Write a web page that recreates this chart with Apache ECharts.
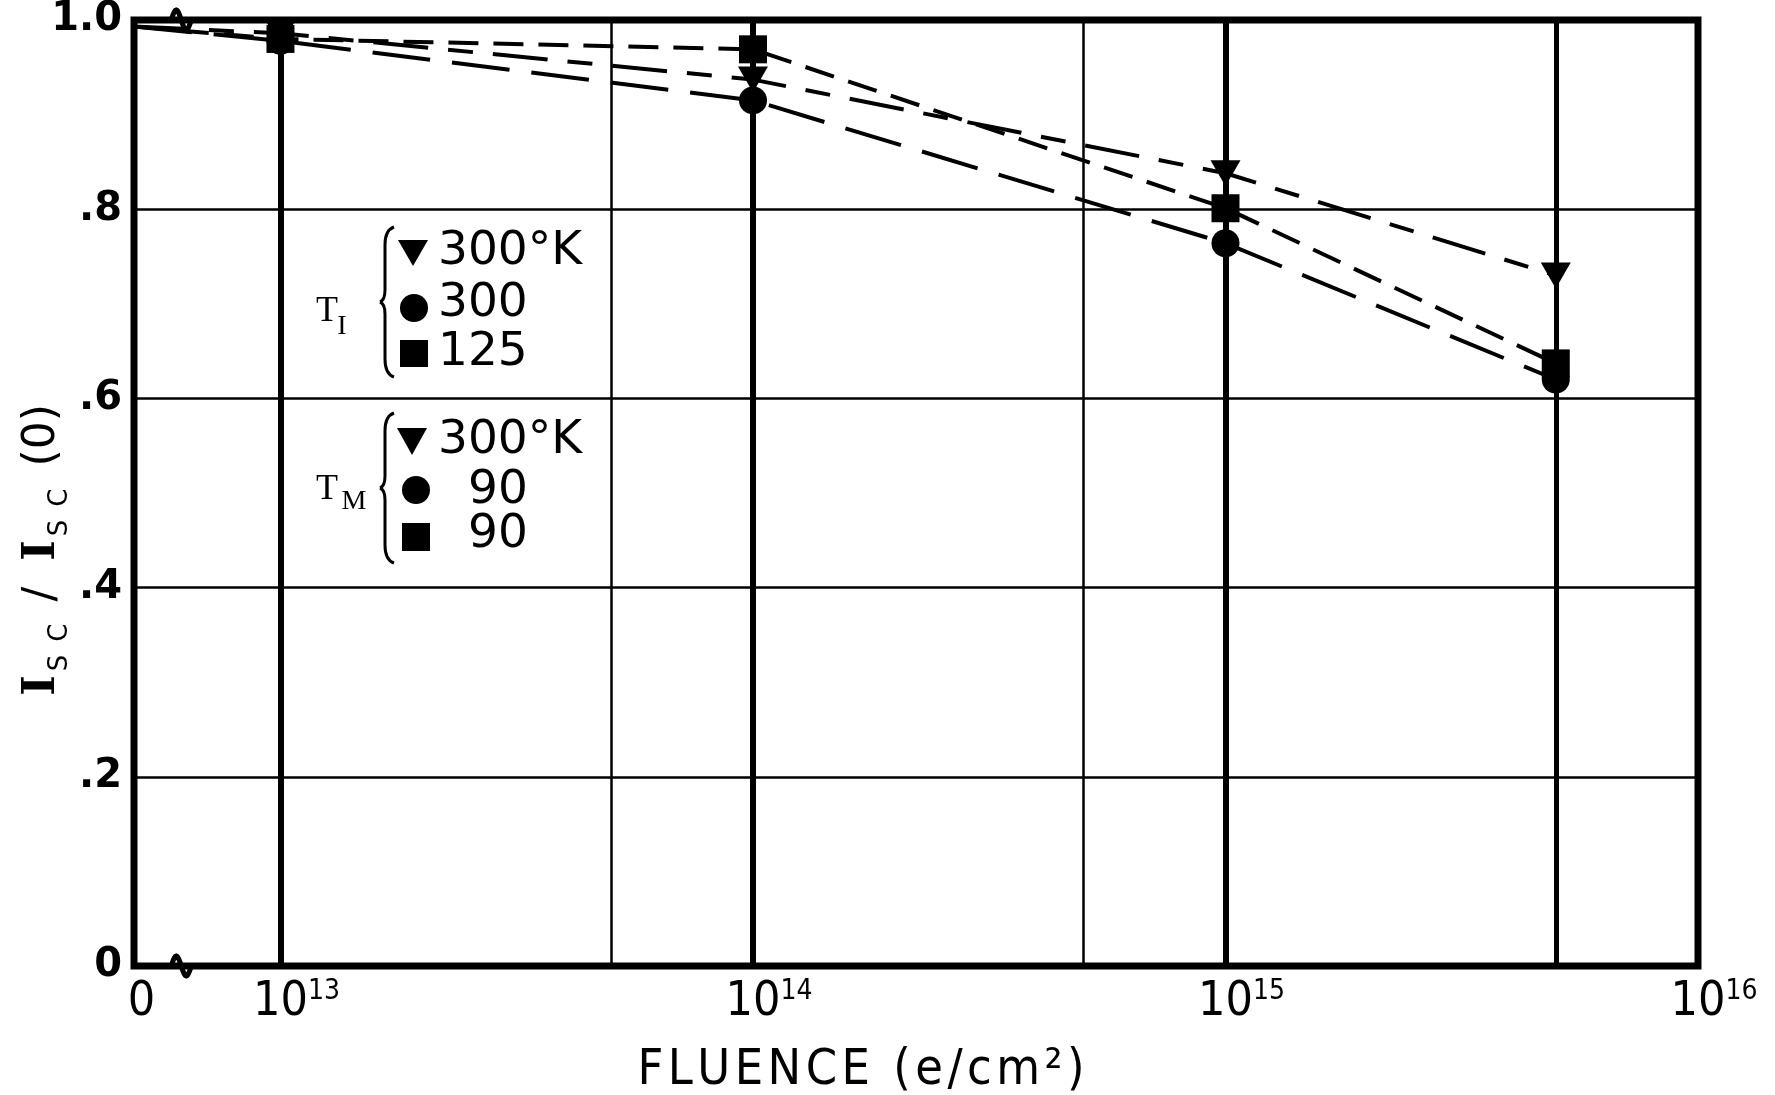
<!DOCTYPE html>
<html>
<head>
<meta charset="utf-8">
<script src="https://cdn.jsdelivr.net/npm/echarts@6/dist/echarts.min.js"></script>
<style>
  html, body { margin: 0; padding: 0; background: #fff; }
  #chart { width: 1775px; height: 1095px; }
</style>
</head>
<body>
<div id="chart"></div>
<script>
// Fluence values (e/cm^2) at which the short-circuit current was measured
const fluence = [0, 1e13, 1e14, 1e15, 5e15];

// Normalised short-circuit current Isc/Isc(0) for each cell group
const ratioTriangle = [0.993, 0.986, 0.937, 0.838, 0.73];
const ratioCircle   = [0.993, 0.978, 0.915, 0.764, 0.62];
const ratioSquare   = [0.993, 0.98, 0.969, 0.801, 0.637];

// Vertical rulings of the log fluence scale
const rulingFluence = [1e13, 5e13, 1e14, 5e14, 1e15, 5e15];

// Axis tick labels
const xDecades = [13, 14, 15, 16];
const yTickLabels = ['0', '.2', '.4', '.6', '.8', '1.0'];

// Legend texts: irradiation temperature T_I and measurement temperature T_M
const legendIrradiation = ['300°K', '300', '125'];
const legendMeasurement = ['300°K', '90', '90'];

// Fluence scale: decades above 1e13 on a log scale, zero placed on a broken segment
const ZERO_POS = -0.31;
const BREAK_POS = -0.21;
const pos = f => (f === 0 ? ZERO_POS : Math.log10(f) - 13);

const toPairs = vals => fluence.map((f, i) =>
  i === 0 ? { value: [pos(f), vals[i]], symbol: 'none' } : [pos(f), vals[i]]);

const TRI = 'path://M0,0L30,0L15,26Z';

const chart = echarts.init(document.getElementById('chart'), null, { renderer: 'canvas' });

function lineSeries(name, vals, symbol, size, dash, z) {
  return {
    name, type: 'line', data: toPairs(vals), z,
    symbol, symbolSize: size, showSymbol: true,
    itemStyle: { color: '#000' },
    lineStyle: { color: '#000', width: 4, type: dash },
    animation: false
  };
}

const rulings = rulingFluence.map(f => {
  const decade = Number.isInteger(Math.log10(f));
  const measured = fluence.includes(f);
  return {
    xAxis: pos(f),
    lineStyle: { color: '#000', type: 'solid', width: decade ? 6 : (measured ? 5 : 2.5) }
  };
});

const seriesCircle = lineSeries('circle', ratioCircle, 'circle', 28, [58, 22], 3);
seriesCircle.markLine = {
  silent: true, symbol: 'none', label: { show: false }, animation: false,
  data: rulings
};

const option = {
  backgroundColor: '#fff',
  animation: false,
  grid: {
    left: 134, right: 77, top: 20, bottom: 129,
    outerBoundsMode: 'none', containLabel: false,
    show: true, borderColor: '#000', borderWidth: 7, backgroundColor: 'transparent'
  },
  xAxis: {
    type: 'value', min: ZERO_POS, max: 3,
    name: 'FLUENCE (e/cm²)'.split('').join('\u200a'),
    nameLocation: 'middle', nameGap: 80, nameMoveOverlap: false,
    nameTextStyle: {
      color: '#000', fontFamily: '"DejaVu Sans Condensed", "DejaVu Sans"',
      fontSize: 50, padding: [0, 110, 0, 0]
    },
    axisLine: { show: false }, axisTick: { show: false }, splitLine: { show: false },
    axisLabel: {
      customValues: [ZERO_POS + 0.016].concat(xDecades.map(d => d - 13)),
      margin: 12,
      formatter: v => v < -0.1 ? '{b|0}' : '{pad|}{b|10}{sup|' + (Math.round(v) + 13) + '}',
      rich: {
        b: { fontFamily: '"DejaVu Sans Condensed", "DejaVu Sans"', fontSize: 48, lineHeight: 50, color: '#000' },
        sup: { fontFamily: '"DejaVu Sans Condensed", "DejaVu Sans"', fontSize: 28, lineHeight: 30, verticalAlign: 'top', color: '#000' },
        pad: { width: 32 }
      }
    }
  },
  yAxis: {
    type: 'value', min: 0, max: 1, interval: 0.2,
    name: '{i|I}{s|S\u2002C}{n|\u2002/\u2002}{i|I}{s|S\u2002C}{n|\u2002(0)}',
    nameLocation: 'middle', nameRotate: 90, nameGap: 61, nameMoveOverlap: false,
    nameTextStyle: {
      color: '#000', padding: [0, 118, 0, 0],
      rich: {
        i: { fontFamily: '"DejaVu Serif"', fontWeight: 'bold', fontSize: 44, lineHeight: 60, padding: [0, 4, 0, 4], color: '#000' },
        s: { fontFamily: '"DejaVu Sans"', fontSize: 26, lineHeight: 28, verticalAlign: 'bottom', color: '#000' },
        n: { fontFamily: '"DejaVu Sans"', fontSize: 44, lineHeight: 60, color: '#000' }
      }
    },
    axisLine: { show: false }, axisTick: { show: false },
    splitLine: { show: true, lineStyle: { color: '#000', width: 2.5 } },
    axisLabel: {
      margin: 12, color: '#000', fontFamily: '"DejaVu Sans"', fontWeight: 'bold', fontSize: 40,
      formatter: v => yTickLabels[Math.round(v / 0.2)]
    }
  },
  series: [
    seriesCircle,
    lineSeries('triangle', ratioTriangle, TRI, [30, 26], [55, 20, 25, 20], 4),
    lineSeries('square', ratioSquare, 'rect', 28, [30, 15], 5)
  ]
};

chart.setOption(option);

// Legend block with braces and temperature groups
const FONT = 'normal 47px "DejaVu Sans"';
const SERIF = '"Liberation Serif", "DejaVu Serif"';
const INK = { stroke: '#000', lineWidth: 3, fill: null };

function label(text, x, y) {
  return { type: 'text', z: 10, style: { text, x, y, font: FONT, fill: '#000', align: 'left', verticalAlign: 'middle' } };
}
function curve(x1, y1, cpx1, cpy1, x2, y2) {
  return { type: 'bezierCurve', z: 10, shape: { x1, y1, cpx1, cpy1, x2, y2 }, style: INK };
}
function segment(x1, y1, x2, y2) {
  return { type: 'line', z: 10, shape: { x1, y1, x2, y2 }, style: INK };
}
function brace(x, y0, y1) {
  const ym = (y0 + y1) / 2;
  const xs = x - 9;
  return [
    curve(x, y0, xs, y0 + 3, xs, y0 + 18),
    segment(xs, y0 + 18, xs, ym - 12),
    curve(xs, ym - 12, xs, ym - 2, x - 14, ym),
    curve(x - 14, ym, xs, ym + 2, xs, ym + 12),
    segment(xs, ym + 12, xs, y1 - 18),
    curve(xs, y1 - 18, xs, y1 - 3, x, y1)
  ];
}
// Axis-break squiggle drawn across the frame line
function wiggle(x, y) {
  const pts = [[x - 16, y]];
  for (let k = 0; k <= 20; k++) {
    const t = k / 20;
    pts.push([x - 10 + 20 * t, y - 10 * Math.sin(2 * Math.PI * t)]);
  }
  pts.push([x + 16, y]);
  return { type: 'polyline', z: 10, shape: { points: pts }, style: { stroke: '#000', lineWidth: 5, fill: null } };
}

const pTop = chart.convertToPixel({ gridIndex: 0 }, [BREAK_POS, 1]);
const pBot = chart.convertToPixel({ gridIndex: 0 }, [BREAK_POS, 0]);

chart.setOption({
  graphic: [
    { type: 'text', z: 10, style: { text: 'T', x: 327, y: 312, font: '36px ' + SERIF, fill: '#000', align: 'center', verticalAlign: 'middle' } },
    { type: 'text', z: 10, style: { text: 'I', x: 342, y: 327, font: '28px ' + SERIF, fill: '#000', align: 'center', verticalAlign: 'middle' } },
    { type: 'text', z: 10, style: { text: 'T', x: 327, y: 490, font: '36px ' + SERIF, fill: '#000', align: 'center', verticalAlign: 'middle' } },
    { type: 'text', z: 10, style: { text: 'M', x: 354, y: 502, font: '28px ' + SERIF, fill: '#000', align: 'center', verticalAlign: 'middle' } },
    ...brace(394, 227, 377),
    ...brace(394, 413, 563),
    { type: 'polygon', z: 10, shape: { points: [[398, 240], [428, 240], [413, 266]] }, style: { fill: '#000' } },
    { type: 'circle', z: 10, shape: { cx: 414, cy: 308, r: 14 }, style: { fill: '#000' } },
    { type: 'rect', z: 10, shape: { x: 400, y: 340, width: 28, height: 27 }, style: { fill: '#000' } },
    label(legendIrradiation[0], 438, 252),
    label(legendIrradiation[1], 438, 304),
    label(legendIrradiation[2], 438, 353),
    { type: 'polygon', z: 10, shape: { points: [[397, 428], [427, 428], [412, 455]] }, style: { fill: '#000' } },
    { type: 'circle', z: 10, shape: { cx: 416, cy: 490, r: 14 }, style: { fill: '#000' } },
    { type: 'rect', z: 10, shape: { x: 402, y: 523, width: 28, height: 28 }, style: { fill: '#000' } },
    label(legendMeasurement[0], 438, 441),
    label(legendMeasurement[1], 468, 491),
    label(legendMeasurement[2], 468, 535),
    wiggle(pTop[0], pTop[1]),
    wiggle(pBot[0], pBot[1])
  ]
});
</script>
</body>
</html>
